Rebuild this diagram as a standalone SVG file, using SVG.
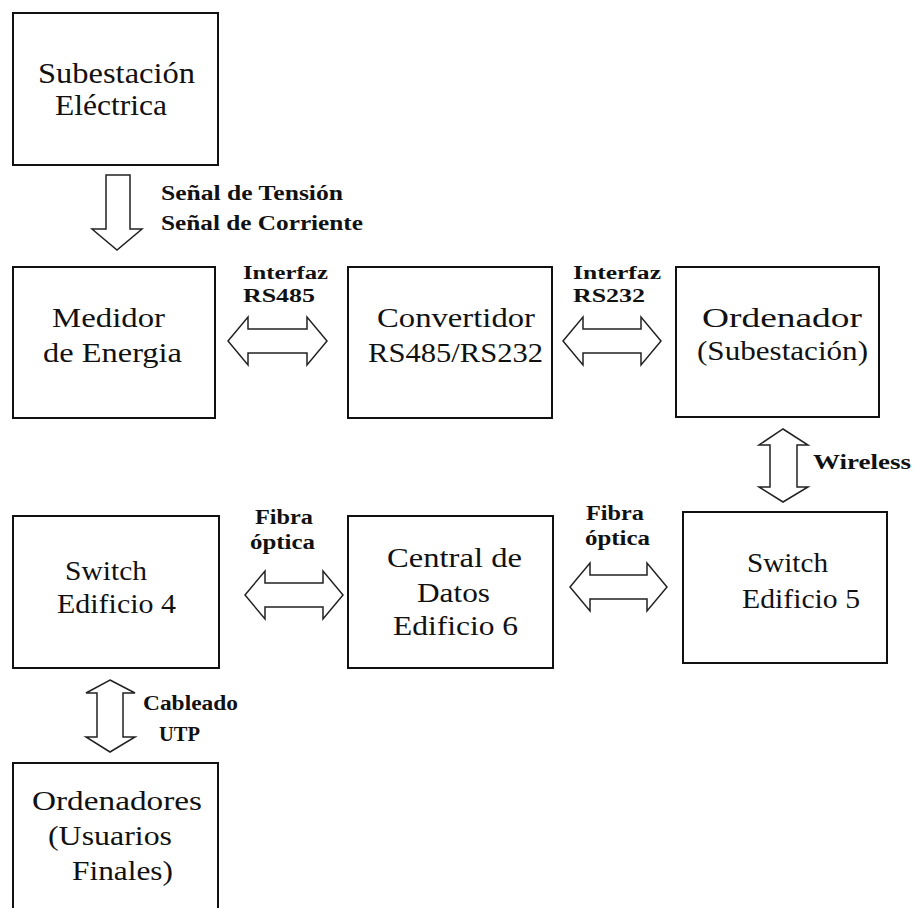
<svg xmlns="http://www.w3.org/2000/svg" width="915" height="908" viewBox="0 0 915 908">
<style>
.box{fill:#fff;stroke:#111;stroke-width:2}
.arr{fill:#fff;stroke:#222;stroke-width:1.5;stroke-linejoin:miter}
text{font-family:"Times New Roman","Liberation Serif",serif;fill:#111}
.t{font-size:27px;font-weight:normal}
.tb{font-size:20px;font-weight:bold}
.ts{font-size:18px}
</style>
<rect width="915" height="908" fill="#fff"/>
<g id="connectors">
<path class="arr" d="M106,175 H130 V229 H142 L117,250 L92,229 H106 Z"/>
<path class="arr" d="M228,341 L248,317 V329 H307 V317 L327,341 L307,365 V353 H248 V365 Z"/>
<path class="arr" d="M563,341 L583,317 V329 H641 V317 L661,341 L641,365 V353 H583 V365 Z"/>
<path class="arr" d="M783,429 L808,445 H797 V487 H808 L783,502 L759,487 H770 V445 H759 Z"/>
<path class="arr" d="M245,595 L265,571 V583 H323 V571 L343,595 L323,619 V607 H265 V619 Z"/>
<path class="arr" d="M570,587 L590,563 V575 H647 V563 L667,587 L647,611 V599 H590 V611 Z"/>
<path class="arr" d="M110,680 L135,693 H123 V737 H135 L110,752 L86,737 H97 V693 H86 Z"/>
<text class="tb" x="161" y="200" textLength="182" lengthAdjust="spacingAndGlyphs">Señal de Tensión</text>
<text class="tb" x="161" y="230" textLength="202" lengthAdjust="spacingAndGlyphs">Señal de Corriente</text>
<text class="tb ts" x="243" y="279" textLength="85" lengthAdjust="spacingAndGlyphs">Interfaz</text>
<text class="tb ts" x="243" y="302" textLength="72" lengthAdjust="spacingAndGlyphs">RS485</text>
<text class="tb ts" x="573" y="279" textLength="88" lengthAdjust="spacingAndGlyphs">Interfaz</text>
<text class="tb ts" x="573" y="302" textLength="72" lengthAdjust="spacingAndGlyphs">RS232</text>
<text class="tb" x="813" y="469" textLength="98" lengthAdjust="spacingAndGlyphs">Wireless</text>
<text class="tb" x="255" y="524" textLength="58" lengthAdjust="spacingAndGlyphs">Fibra</text>
<text class="tb" x="250" y="549" textLength="65" lengthAdjust="spacingAndGlyphs">óptica</text>
<text class="tb" x="586" y="520" textLength="58" lengthAdjust="spacingAndGlyphs">Fibra</text>
<text class="tb" x="585" y="545" textLength="65" lengthAdjust="spacingAndGlyphs">óptica</text>
<text class="tb" x="143" y="710" textLength="95" lengthAdjust="spacingAndGlyphs">Cableado</text>
<text class="tb" x="159" y="741" textLength="41" lengthAdjust="spacingAndGlyphs">UTP</text>
</g>
<g id="subestacion">
<rect class="box" x="13" y="13" width="205" height="152"/>
<text class="t" style="font-size:29px" x="38" y="83" textLength="157" lengthAdjust="spacingAndGlyphs">Subestación</text>
<text class="t" style="font-size:29px" x="55" y="115" textLength="112" lengthAdjust="spacingAndGlyphs">Eléctrica</text>
</g>
<g id="medidor">
<rect class="box" x="13" y="267" width="202" height="151"/>
<text class="t" x="52" y="327" textLength="113" lengthAdjust="spacingAndGlyphs">Medidor</text>
<text class="t" x="43" y="362" textLength="139" lengthAdjust="spacingAndGlyphs">de Energia</text>
</g>
<g id="convertidor">
<rect class="box" x="348" y="267" width="204" height="151"/>
<text class="t" x="377" y="327" textLength="158" lengthAdjust="spacingAndGlyphs">Convertidor</text>
<text class="t" x="368" y="362" textLength="175" lengthAdjust="spacingAndGlyphs">RS485/RS232</text>
</g>
<g id="ordenador">
<rect class="box" x="676" y="267" width="203" height="150"/>
<text class="t" x="702" y="327" textLength="160" lengthAdjust="spacingAndGlyphs">Ordenador</text>
<text class="t" x="697" y="360" textLength="171" lengthAdjust="spacingAndGlyphs">(Subestación)</text>
</g>
<g id="switch4">
<rect class="box" x="13" y="516" width="206" height="152"/>
<text class="t" x="65" y="580" textLength="82" lengthAdjust="spacingAndGlyphs">Switch</text>
<text class="t" x="57" y="613" textLength="119" lengthAdjust="spacingAndGlyphs">Edificio 4</text>
</g>
<g id="central">
<rect class="box" x="348" y="516" width="205" height="152"/>
<text class="t" x="387" y="567" textLength="135" lengthAdjust="spacingAndGlyphs">Central de</text>
<text class="t" x="417" y="602" textLength="73" lengthAdjust="spacingAndGlyphs">Datos</text>
<text class="t" x="393" y="635" textLength="125" lengthAdjust="spacingAndGlyphs">Edificio 6</text>
</g>
<g id="switch5">
<rect class="box" x="683" y="512" width="204" height="151"/>
<text class="t" x="747" y="572" textLength="81" lengthAdjust="spacingAndGlyphs">Switch</text>
<text class="t" x="742" y="608" textLength="118" lengthAdjust="spacingAndGlyphs">Edificio 5</text>
</g>
<g id="ordenadores">
<rect class="box" x="13" y="763" width="205" height="160"/>
<text class="t" x="32" y="810" textLength="170" lengthAdjust="spacingAndGlyphs">Ordenadores</text>
<text class="t" x="48" y="845" textLength="124" lengthAdjust="spacingAndGlyphs">(Usuarios</text>
<text class="t" x="72" y="880" textLength="101" lengthAdjust="spacingAndGlyphs">Finales)</text>
</g>
</svg>
